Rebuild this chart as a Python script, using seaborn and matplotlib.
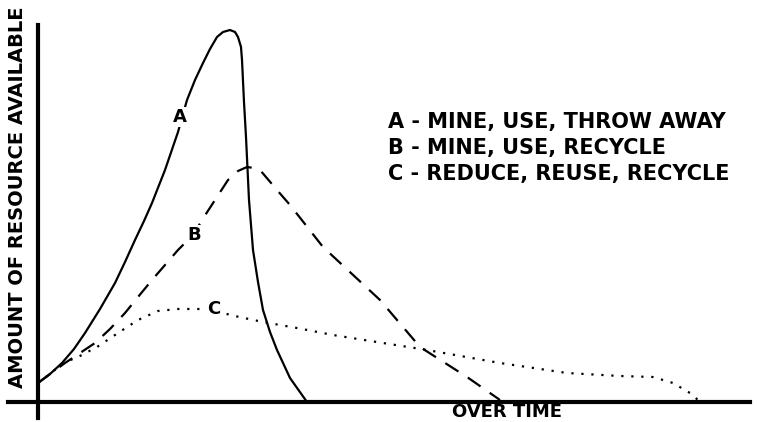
import matplotlib
matplotlib.use("Agg")
import matplotlib.pyplot as plt
import pandas as pd
import seaborn as sns

# curve readings (time units, amount units)
time_a = [0, 12, 24, 36, 47, 62, 77, 87, 97, 106, 114, 127, 140, 149, 157, 165, 172, 179,
          185, 192, 197, 200, 203, 204, 206, 208, 211, 215, 220, 225, 232, 239, 252, 269]
amount_a = [19, 28, 39, 53, 69, 93, 119, 140, 162, 181, 199, 232, 270, 302, 322, 339, 353, 365,
            370, 372, 370, 365, 355, 342, 300, 265, 202, 152, 120, 92, 70, 52, 24, 0]

time_b = [0, 12, 27, 42, 57, 72, 87, 100, 114, 127, 140, 155, 166, 177, 190, 200, 209, 216,
          222, 239, 252, 285, 342, 382, 429, 462]
amount_b = [19, 28, 39, 49, 59, 73, 89, 105, 122, 137, 152, 167, 185, 202, 222, 231, 235, 234,
            232, 212, 197, 155, 102, 55, 25, 2]

time_c = [0, 12, 25, 40, 59, 80, 100, 120, 140, 160, 177, 192, 225, 259, 295, 345, 389, 462,
          529, 582, 615, 635, 652, 660]
amount_c = [19, 28, 39, 45, 55, 69, 82, 91, 93, 93, 92, 87, 80, 74, 67, 59, 52, 39,
            29, 26, 25, 19, 9, 2]

curve_names = ["A", "B", "C"]
legend_lines = ["A - MINE, USE, THROW AWAY",
                "B - MINE, USE, RECYCLE",
                "C - REDUCE, REUSE, RECYCLE"]
label_pos = {"A": (142, 285), "B": (156, 167), "C": (176, 93)}

df = pd.concat([
    pd.DataFrame({"time": time_a, "amount": amount_a, "curve": "A"}),
    pd.DataFrame({"time": time_b, "amount": amount_b, "curve": "B"}),
    pd.DataFrame({"time": time_c, "amount": amount_c, "curve": "C"}),
], ignore_index=True)

sns.set_style("white")
plt.rcParams["font.family"] = ["DejaVu Sans"]

fig = plt.figure(figsize=(7.57, 4.22), dpi=100)
ax = fig.add_axes([8 / 757, 4 / 422, 742 / 757, 393 / 422])

styles = {"A": "-", "B": (0, (7, 5)), "C": (0, (1, 3.5))}
for name in curve_names:
    sub = df[df["curve"] == name]
    sns.lineplot(data=sub, x="time", y="amount", sort=False, estimator=None,
                 color="black", linestyle=styles[name], linewidth=1.6,
                 ax=ax, legend=False)

for name in curve_names:
    x, y = label_pos[name]
    ax.text(x, y, name, fontsize=13, fontweight="bold", ha="center", va="center",
            color="black", bbox=dict(facecolor="white", edgecolor="none", pad=1))

ax.set_xlim(-30, 712)
ax.set_ylim(-16, 377)
ax.spines["left"].set_position(("data", 0))
ax.spines["bottom"].set_position(("data", 0))
ax.spines["right"].set_visible(False)
ax.spines["top"].set_visible(False)
for s in ["left", "bottom"]:
    ax.spines[s].set_linewidth(3)
    ax.spines[s].set_color("black")
ax.set_xticks([])
ax.set_yticks([])
ax.set_xlabel("")
ax.set_ylabel("")

for i, line in enumerate(legend_lines):
    ax.text(350, 280 - i * 26, line, fontsize=15, fontweight="bold",
            ha="left", va="center", color="black")

ax.text(-20, 205, "AMOUNT OF RESOURCE AVAILABLE", rotation=90, fontsize=14,
        fontweight="bold", ha="center", va="center", color="black")
ax.text(469, -10, "OVER TIME", fontsize=13, fontweight="bold",
        ha="center", va="center", color="black")

fig.savefig("out.png", dpi=100, facecolor="white")
